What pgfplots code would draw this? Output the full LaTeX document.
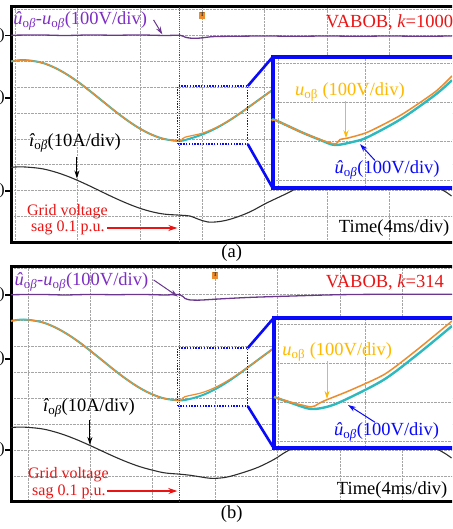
\documentclass[border=0pt]{standalone}
\usepackage{fontspec}
\setmainfont{Liberation Serif}
\usepackage{pgfplots}
\pgfplotsset{compat=1.18}
\usetikzlibrary{arrows.meta}

\definecolor{trpurple}{RGB}{105,55,140}
\definecolor{lbpurple}{RGB}{125,45,195}
\definecolor{trorange}{RGB}{236,140,45}
\definecolor{trcyan}{RGB}{45,185,190}
\definecolor{lbgold}{RGB}{255,185,0}
\definecolor{zoomblue}{RGB}{10,10,250}
\definecolor{gridgray}{RGB}{165,165,165}
\definecolor{sagred}{RGB}{235,20,20}
\definecolor{trgray}{RGB}{45,45,45}

\newcommand{\lbl}{\fontsize{18.5}{21}\selectfont}
\newcommand{\lbs}{\fontsize{16}{18}\selectfont}
\newcommand{\uhat}{{\itshape û}\textsubscript{o\itshape β}}
\newcommand{\uact}{{\itshape u}\textsubscript{o\itshape β}}
\newcommand{\ihat}{{\itshape î}\textsubscript{o\itshape β}}

\tikzset{
  chmark/.style={black, line width=1.3pt},
  zoombox/.style={zoomblue, line width=1.3pt, dash pattern=on 1.4pt off 1.4pt},
}

\pgfplotsset{
  screen/.style={
    scale only axis, clip=false,
    axis x line*=box, axis y line*=left,
    axis line style={line width=3pt, black, line cap=rect},
    tick style={draw=none}, xticklabels={}, yticklabels={},
    xmin=-0.064, xmax=7.0, ymin=0,
    grid=major, grid style={gridgray, densely dotted, line width=0.7pt},
    ytick={1,2,3,4,5,6,7,8,9},
  },
  inset/.style={
    scale only axis, clip=false,
    axis x line*=box, axis y line*=left,
    axis line style={line width=3.2pt, zoomblue, line cap=rect},
    tick style={draw=none}, xticklabels={}, yticklabels={},
    xmax=3.264,
    grid=major, grid style={gridgray, densely dotted, line width=0.7pt},
    xtick={-0.019,1.623}, ytick={0,1,2,3},
    axis background/.style={fill=white},
  },
}

\begin{document}
\begin{tikzpicture}
\useasboundingbox (0pt,0pt) rectangle (452pt,529pt);
\clip (0pt,0pt) rectangle (452pt,529pt);

% ---------------- panel (a): VABOB, k = 1000 ----------------
\begin{axis}[screen, at={(11pt,286.5pt)}, anchor=south west,
  width=441pt, height=235.5pt, ymax=9.09, xtick={0,1,2,3,4,5,6}]
% estimation error
\addplot[trpurple, line width=1.3pt, smooth, tension=0.5] coordinates {
 (-0.064,8.0) (0.4,8.01) (0.8,7.99) (1.2,8.01) (1.6,8.0) (2.0,8.01) (2.4,7.99) (2.64,8.0)
 (2.72,7.93) (2.8,7.89) (2.9,7.88) (3.0,7.9) (3.1,7.93) (3.2,7.95) (3.5,7.96) (4.0,7.97)
 (4.5,7.96) (5.0,7.97) (5.5,7.96) (6.0,7.97) (6.5,7.96) (7.0,7.97)};
% estimated voltage
\addplot[trcyan, line width=2.0pt, smooth, tension=0.6] coordinates {
 (-0.064,6.989) (0.14,7.04) (0.4,6.957) (0.6,6.787) (0.8,6.533) (1.0,6.215) (1.2,5.848)
 (1.4,5.461) (1.6,5.073) (1.8,4.712) (2.0,4.397) (2.2,4.152) (2.4,3.990) (2.64,3.92)
 (2.8,4.009) (3.0,4.169) (3.2,4.387) (3.4,4.660) (3.6,4.979) (3.8,5.324) (4.0,5.672)
 (4.2,6.012) (4.4,6.314)};
% measured voltage
\addplot[trorange, line width=1.2pt, smooth, tension=0.6] coordinates {
 (-0.064,6.989) (0.14,7.04) (0.4,6.957) (0.6,6.787) (0.8,6.533) (1.0,6.215) (1.2,5.848)
 (1.4,5.461) (1.6,5.073) (1.8,4.712) (2.0,4.397) (2.2,4.152) (2.4,3.990) (2.64,3.92)
 (2.68,4.0) (2.72,4.06) (2.8,4.108) (3.0,4.22) (3.2,4.412) (3.4,4.671) (3.6,4.983)
 (3.8,5.325) (4.0,5.672) (4.2,6.012) (4.4,6.314)};
% estimated current
\addplot[trgray, line width=1.1pt, smooth, tension=0.6] coordinates {
 (-0.064,2.898) (0.112,2.92) (0.4,2.86) (0.6,2.751) (0.8,2.594) (1.0,2.399) (1.2,2.178)
 (1.4,1.945) (1.6,1.716) (1.8,1.505) (2.0,1.322) (2.2,1.182) (2.4,1.093) (2.64,1.055)
 (2.8,1.023) (2.928,0.907) (3.088,0.792) (3.28,0.811) (3.488,0.927) (3.76,1.178)
 (4.032,1.525) (4.4,1.95) (4.72,2.375) (5.04,2.76) (5.36,3.03) (5.6,3.147) (5.84,3.07)
 (6.16,2.80) (6.48,2.49) (6.848,2.027) (6.992,1.795)};
% sag instant
\addplot[sagred, densely dotted, line width=1.1pt] coordinates {(2.64,0) (2.64,9.09)};
% zoomed window and its leaders
\draw[zoombox] (2.608,3.80) rectangle (3.728,6.04);
\draw[zoomblue, line width=2.6pt] (3.728,6.04) -- (4.128,7.16);
\draw[zoomblue, line width=2.6pt] (3.728,3.80) -- (4.128,2.10);
% channel markers
\draw[chmark] (-0.16,8.0) -- (-0.064,8.0);
\draw[chmark] (-0.16,5.58) -- (-0.064,5.58);
\draw[chmark] (-0.16,1.99) -- (-0.064,1.99);
\node[anchor=east, inner sep=0pt, font=\lbs] at (-0.16,8.0) {)};
\node[anchor=east, inner sep=0pt, font=\lbs] at (-0.16,5.58) {)};
\node[anchor=east, inner sep=0pt, font=\lbs] at (-0.16,1.99) {)};
% trigger marker
\node[fill=trorange, minimum width=6pt, minimum height=7pt, inner sep=0pt,
  font=\fontsize{6}{6}\selectfont\bfseries, text=black!80] at (3.0,8.78) {T};
% labels
\node[anchor=west, inner sep=0pt, text=lbpurple, font=\lbl] at (-0.03,8.55) {\uhat-\uact(100V/div)};
\draw[-{Stealth[length=8pt,width=5pt]}, trpurple, line width=1pt] (2.22,8.59) -- (2.36,8.03);
\node[anchor=west, inner sep=0pt, text=sagred, font=\lbl] at (4.976,8.51) {VABOB, {\itshape k}=1000};
\node[anchor=west, inner sep=0pt, font=\lbl] at (0.224,3.84) {\ihat(10A/div)};
\draw[-{Stealth[length=8pt,width=5pt]}, black, line width=1pt] (0.992,3.30) -- (0.992,2.47);
\node[anchor=west, inner sep=0pt, text=sagred, font=\lbs] at (0.192,1.178) {Grid voltage};
\node[anchor=west, inner sep=0pt, text=sagred, font=\lbs] at (0.256,0.56) {sag 0.1 p.u.};
\draw[-{Stealth[length=9pt,width=6pt]}, sagred, line width=1.2pt] (1.472,0.56) -- (2.60,0.56);
\node[anchor=east, inner sep=0pt, font=\lbl] at (6.96,0.56) {Time(4ms/div)};
\node[font=\lbl] at (3.472,-0.405) {(a)};
\end{axis}

\begin{axis}[inset, at={(273pt,341pt)}, anchor=south west,
  width=179pt, height=131pt, xmin=-0.113, ymin=-0.205, ymax=3.154]
\addplot[trcyan, line width=2.4pt, smooth, tension=0.5] coordinates {
 (-0.113,1.513) (-0.075,1.538) (0.415,1.231) (0.774,1.030) (1.057,0.897) (1.434,0.99)
 (1.679,1.103) (2.302,1.564) (2.943,2.179) (3.264,2.56)};
\addplot[trorange, line width=1.5pt, smooth, tension=0.4] coordinates {
 (-0.113,1.513) (-0.075,1.538) (0.415,1.231) (0.774,1.038) (1.057,0.923) (1.151,1.038)
 (1.302,1.077) (1.679,1.231) (2.302,1.667) (2.943,2.256) (3.264,2.667)};
\node[anchor=west, inner sep=0pt, text=lbgold, font=\lbl] at (0.30,2.26)
  {{\itshape u}\textsubscript{oβ} (100V/div)};
\draw[-{Stealth[length=8pt,width=5pt]}, lbgold, line width=1pt] (1.264,2.02) -- (1.264,1.07);
\node[inner sep=0pt, text=zoomblue, font=\lbl] at (2.04,0.256) {\uhat(100V/div)};
\draw[-{Stealth[length=8pt,width=5pt]}, zoomblue, line width=1pt] (1.811,0.50) -- (1.528,0.92);
\end{axis}

% ---------------- panel (b): VABOB, k = 314 ----------------
\begin{axis}[screen, at={(11pt,27.1pt)}, anchor=south west,
  width=441pt, height=234.9pt, ymax=9.07,
  xtick={0.208,1.208,2.208,3.208,4.208,5.208,6.208}]
\addplot[trpurple, line width=1.3pt, smooth, tension=0.5] coordinates {
 (-0.064,8.0) (0.4,8.01) (0.8,7.99) (1.2,8.01) (1.6,8.0) (2.0,8.01) (2.4,7.99) (2.64,8.0)
 (2.72,7.86) (2.8,7.80) (2.95,7.79) (3.1,7.81) (3.376,7.85) (3.8,7.9) (4.448,7.95)
 (5.0,7.99) (5.5,8.01) (6.2,8.02) (7.0,8.02)};
\addplot[trcyan, line width=2.0pt, smooth, tension=0.6] coordinates {
 (-0.064,6.989) (0.14,7.04) (0.4,6.957) (0.6,6.787) (0.8,6.533) (1.0,6.215) (1.2,5.848)
 (1.4,5.461) (1.6,5.073) (1.8,4.712) (2.0,4.397) (2.2,4.152) (2.4,3.990) (2.64,3.92)
 (2.8,3.975) (3.0,4.119) (3.2,4.342) (3.4,4.627) (3.6,4.961) (3.8,5.319) (4.0,5.677)
 (4.2,6.025) (4.4,6.331)};
\addplot[trorange, line width=1.2pt, smooth, tension=0.6] coordinates {
 (-0.064,6.989) (0.14,7.04) (0.4,6.957) (0.6,6.787) (0.8,6.533) (1.0,6.215) (1.2,5.848)
 (1.4,5.461) (1.6,5.073) (1.8,4.712) (2.0,4.397) (2.2,4.152) (2.4,3.990) (2.64,3.92)
 (2.68,4.0) (2.72,4.06) (2.8,4.108) (3.0,4.22) (3.2,4.412) (3.4,4.671) (3.6,4.983)
 (3.8,5.325) (4.0,5.672) (4.2,6.012) (4.4,6.314)};
\addplot[trgray, line width=1.1pt, smooth, tension=0.6] coordinates {
 (-0.064,2.869) (0.112,2.89) (0.4,2.832) (0.6,2.728) (0.8,2.578) (1.0,2.392) (1.2,2.180)
 (1.4,1.957) (1.6,1.737) (1.8,1.535) (2.0,1.361) (2.2,1.227) (2.4,1.12) (2.64,1.07)
 (2.8,1.03) (2.96,0.97) (3.152,0.91) (3.376,0.95) (3.632,1.116) (3.904,1.347)
 (4.16,1.656) (4.336,1.927) (4.64,2.313) (4.96,2.699) (5.28,2.969) (5.552,3.085)
 (5.84,3.008) (6.16,2.737) (6.48,2.390) (6.848,1.927) (6.992,1.695)};
\addplot[sagred, densely dotted, line width=1.1pt] coordinates {(2.64,0) (2.64,9.07)};
\draw[zoombox] (2.608,3.70) rectangle (3.728,5.94);
\draw[zoomblue, line width=2.6pt] (3.728,5.94) -- (4.144,7.10);
\draw[zoomblue, line width=2.6pt] (3.728,3.70) -- (4.144,2.08);
\draw[chmark] (-0.16,7.99) -- (-0.064,7.99);
\draw[chmark] (-0.16,5.52) -- (-0.064,5.52);
\draw[chmark] (-0.16,2.0) -- (-0.064,2.0);
\node[anchor=east, inner sep=0pt, font=\lbs] at (-0.16,7.99) {)};
\node[anchor=east, inner sep=0pt, font=\lbs] at (-0.16,5.52) {)};
\node[anchor=east, inner sep=0pt, font=\lbs] at (-0.16,2.0) {)};
\node[fill=trorange, minimum width=6pt, minimum height=7pt, inner sep=0pt,
  font=\fontsize{6}{6}\selectfont\bfseries, text=black!80] at (3.208,8.76) {T};
\node[anchor=west, inner sep=0pt, text=lbpurple, font=\lbl] at (-0.01,8.49) {\uhat-\uact(100V/div)};
\draw[-{Stealth[length=8pt,width=5pt]}, trpurple, line width=1pt] (2.22,8.57) -- (2.608,7.93);
\node[anchor=west, inner sep=0pt, text=sagred, font=\lbl] at (4.976,8.49) {VABOB, {\itshape k}=314};
\node[anchor=west, inner sep=0pt, font=\lbl] at (0.448,3.63) {\ihat(10A/div)};
\draw[-{Stealth[length=8pt,width=5pt]}, black, line width=1pt] (1.2,3.16) -- (1.2,2.20);
\node[anchor=west, inner sep=0pt, text=sagred, font=\lbs] at (0.208,1.04) {Grid voltage};
\node[anchor=west, inner sep=0pt, text=sagred, font=\lbs] at (0.272,0.38) {sag 0.1 p.u.};
\draw[-{Stealth[length=9pt,width=6pt]}, sagred, line width=1.2pt] (1.472,0.42) -- (2.60,0.42);
\node[anchor=east, inner sep=0pt, font=\lbl] at (6.928,0.46) {Time(4ms/div)};
\node[font=\lbl] at (3.472,-0.467) {(b)};
\end{axis}

\begin{axis}[inset, at={(274pt,81pt)}, anchor=south west,
  width=178pt, height=130pt, xmin=-0.094, ymin=-0.18, ymax=3.154]
\addplot[trcyan, line width=2.4pt, smooth, tension=0.5] coordinates {
 (-0.094,1.128) (0.208,0.987) (0.604,0.821) (0.962,0.897) (1.358,1.128) (2.0,1.590)
 (2.623,2.231) (3.264,2.949)};
\addplot[trorange, line width=1.5pt, smooth, tension=0.4] coordinates {
 (-0.094,1.128) (0.208,1.0) (0.604,0.872) (0.736,0.949) (0.868,1.038) (1.358,1.308)
 (2.0,1.718) (2.623,2.359) (3.264,3.077)};
\node[anchor=west, inner sep=0pt, text=lbgold, font=\lbl] at (0.06,2.28)
  {{\itshape u}\textsubscript{oβ} (100V/div)};
\draw[-{Stealth[length=8pt,width=5pt]}, lbgold, line width=1pt] (0.906,2.04) -- (0.906,1.08);
\node[inner sep=0pt, text=zoomblue, font=\lbl] at (2.03,0.23) {\uhat(100V/div)};
\draw[-{Stealth[length=8pt,width=5pt]}, zoomblue, line width=1pt] (1.811,0.48) -- (1.302,0.923);
\end{axis}
\end{tikzpicture}
\end{document}
